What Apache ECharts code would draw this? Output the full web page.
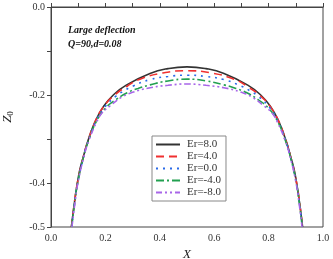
<!DOCTYPE html>
<html>
<head>
<meta charset="utf-8">
<script src="https://cdn.jsdelivr.net/npm/echarts@6/dist/echarts.min.js"></script>
<style>
html, body { margin: 0; padding: 0; background: #fff; }
#main { width: 333px; height: 259px; }
</style>
</head>
<body>
<div id="main"></div>
<script>
var chart = echarts.init(document.getElementById('main')); // init

var names = ['Er=8.0', 'Er=4.0', 'Er=0.0', 'Er=-4.0', 'Er=-8.0'];
var colors = ['#333333', '#f03030', '#2a6ae8', '#22a050', '#a866e8'];
var dashes = ['solid', [8, 5], [2, 5], [8, 3, 2, 3], [6, 3, 2, 3, 2, 3]];

// curves, [X, Z0]
var er8 = [[0.075,-0.5],[0.085,-0.45],[0.097,-0.40],[0.107,-0.367],[0.119,-0.34],[0.137,-0.302],[0.162,-0.261],[0.192,-0.227],[0.229,-0.200],[0.278,-0.177],[0.364,-0.151],[0.43,-0.140],[0.5,-0.136],
  [0.57,-0.140],[0.636,-0.151],[0.722,-0.177],[0.771,-0.200],[0.808,-0.227],[0.838,-0.261],[0.863,-0.302],[0.881,-0.34],[0.893,-0.367],[0.903,-0.40],[0.915,-0.45],[0.925,-0.5]];
var er4 = [[0.075,-0.5],[0.085,-0.45],[0.097,-0.40],[0.119,-0.34],[0.137,-0.302],[0.162,-0.261],[0.193,-0.227],[0.232,-0.201],[0.28,-0.180],[0.327,-0.164],[0.41,-0.150],[0.5,-0.145],
  [0.59,-0.150],[0.673,-0.164],[0.72,-0.180],[0.768,-0.201],[0.807,-0.227],[0.838,-0.261],[0.863,-0.302],[0.881,-0.34],[0.903,-0.40],[0.915,-0.45],[0.925,-0.5]];
var er0 = [[0.076,-0.5],[0.086,-0.45],[0.098,-0.40],[0.12,-0.34],[0.138,-0.302],[0.164,-0.261],[0.197,-0.228],[0.238,-0.203],[0.27,-0.190],[0.30,-0.180],[0.364,-0.165],[0.43,-0.158],[0.5,-0.155],
  [0.57,-0.158],[0.636,-0.165],[0.70,-0.180],[0.73,-0.190],[0.762,-0.203],[0.803,-0.228],[0.836,-0.261],[0.862,-0.302],[0.88,-0.34],[0.902,-0.40],[0.914,-0.45],[0.924,-0.5]];
var erm4 = [[0.076,-0.5],[0.086,-0.45],[0.098,-0.40],[0.12,-0.34],[0.139,-0.302],[0.166,-0.261],[0.20,-0.23],[0.24,-0.21],[0.28,-0.195],[0.32,-0.185],[0.364,-0.177],[0.43,-0.168],[0.5,-0.164],
  [0.57,-0.168],[0.636,-0.177],[0.68,-0.185],[0.72,-0.195],[0.76,-0.21],[0.80,-0.23],[0.834,-0.261],[0.861,-0.302],[0.88,-0.34],[0.902,-0.40],[0.914,-0.45],[0.924,-0.5]];
var erm8 = [[0.077,-0.5],[0.087,-0.45],[0.099,-0.40],[0.121,-0.34],[0.14,-0.302],[0.168,-0.261],[0.186,-0.242],[0.217,-0.225],[0.26,-0.205],[0.30,-0.194],[0.36,-0.184],[0.43,-0.178],[0.5,-0.175],
  [0.57,-0.178],[0.64,-0.184],[0.70,-0.194],[0.74,-0.205],[0.783,-0.225],[0.814,-0.242],[0.832,-0.261],[0.86,-0.302],[0.879,-0.34],[0.901,-0.40],[0.913,-0.45],[0.923,-0.5]];
var curves = [er8, er4, er0, erm4, erm8];

var xLabels = [0, 0.2, 0.4, 0.6, 0.8, 1.0];
var yLabels = [0, -0.2, -0.4, -0.5];

function pick(list, v) {
    for (var k = 0; k < list.length; k++) {
        if (Math.abs(v - list[k]) < 1e-6) return v.toFixed(1);
    }
    return '';
}

var serif = 'Liberation Serif';
var series = [];
for (var i = 0; i < curves.length; i++) {
    series.push({
        name: names[i],
        type: 'line',
        data: curves[i],
        smooth: 0.5,
        showSymbol: false,
        symbol: 'none',
        lineStyle: { color: colors[i], width: 1.6, type: dashes[i] },
        itemStyle: { color: colors[i] }
    });
}

option = {
    animation: false,
    grid: {
        left: 51, right: 10, top: 7, bottom: 32,
        outerBoundsMode: 'none',
        containLabel: false,
        show: true, borderColor: '#444', borderWidth: 1
    },
    legend: {
        orient: 'vertical',
        left: 152, top: 136,
        padding: [3, 5, 3, 3],
        itemGap: 1,
        itemWidth: 24, itemHeight: 12,
        borderColor: '#888', borderWidth: 1,
        itemStyle: { opacity: 0 },
        data: names,
        textStyle: { fontFamily: serif, fontSize: 11, color: '#333', padding: [0, 0, 0, 2] }
    },
    xAxis: {
        type: 'value', min: 0, max: 1, interval: 0.1,
        name: 'X', nameLocation: 'middle', nameGap: 19,
        nameTextStyle: { fontFamily: serif, fontStyle: 'italic', fontSize: 13, color: '#222' },
        axisLine: { lineStyle: { color: '#444' } },
        axisTick: { inside: true, length: 4, lineStyle: { color: '#444' } },
        axisLabel: {
            fontFamily: serif, fontSize: 10, color: '#333', margin: 6,
            showMinLabel: true, showMaxLabel: true,
            formatter: function (v) { return pick(xLabels, v); }
        },
        splitLine: { show: false }
    },
    yAxis: {
        type: 'value', min: -0.5, max: 0, interval: 0.1,
        name: '{z|Z}{s|0}', nameLocation: 'middle', nameGap: 36, nameRotate: 90,
        nameTextStyle: {
            rich: {
                z: { fontFamily: serif, fontStyle: 'italic', fontSize: 13, color: '#222' },
                s: { fontFamily: serif, fontSize: 9, color: '#222', verticalAlign: 'bottom', padding: [6, 0, 0, 0] }
            }
        },
        axisLine: { show: true, lineStyle: { color: '#444' } },
        axisTick: { inside: false, length: 4, lineStyle: { color: '#444' } },
        axisLabel: {
            fontFamily: serif, fontSize: 10, color: '#333', margin: 6,
            showMinLabel: true, showMaxLabel: true,
            formatter: function (v) { return pick(yLabels, v); }
        },
        splitLine: { show: false }
    },
    graphic: [
        { type: 'text', left: 68, top: 25, style: { text: 'Large deflection', font: 'italic bold 10px "Liberation Serif"', fill: '#111' } },
        { type: 'text', left: 68, top: 39, style: { text: 'Q=90,d=0.08', font: 'italic bold 10px "Liberation Serif"', fill: '#111' } }
    ],
    series: series
};

chart.setOption(option);
</script>
</body>
</html>
